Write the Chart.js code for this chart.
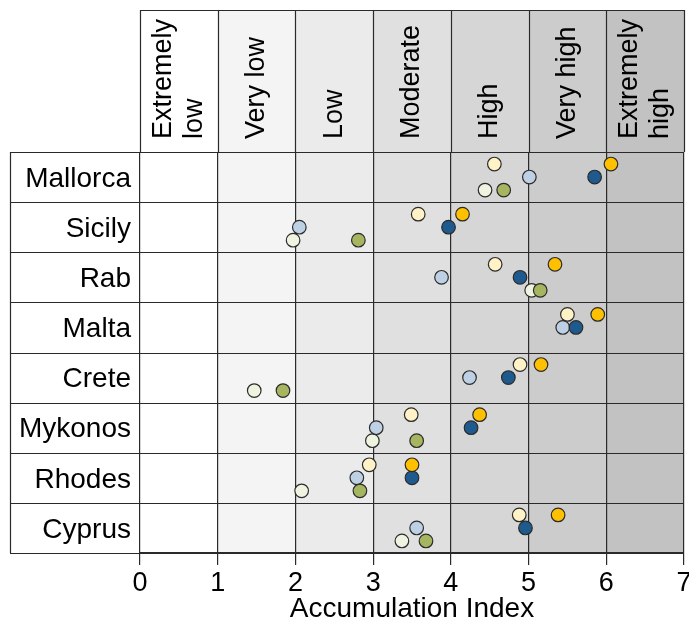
<!DOCTYPE html>
<html>
<head>
<meta charset="utf-8">
<script src="https://cdn.jsdelivr.net/npm/chart.js@4"></script>
<style>
    body { margin: 0; background: #fff; }
    #wrap { width: 689px; height: 622px; }
</style>
</head>
<body>
<div id="wrap"><canvas id="accChart"></canvas></div>
<script>
// Rows (top to bottom) and the index bands shown in the header
var islands = ['Mallorca', 'Sicily', 'Rab', 'Malta', 'Crete', 'Mykonos', 'Rhodes', 'Cyprus'];
var bandLabels = [['Extremely', 'low'], ['Very low'], ['Low'], ['Moderate'], ['High'], ['Very high'], ['Extremely', 'high']];
var xTicks = [0, 1, 2, 3, 4, 5, 6, 7];

// Accumulation index per island, one list per series (null = no value)
var creamVals     = [4.56, 3.58, 4.57, 5.50, 4.89, 3.49, 2.95, 4.88];
var goldVals      = [6.06, 4.15, 5.34, 5.89, 5.16, 4.37, 3.50, 5.38];
var lightBlueVals = [5.01, 2.05, 3.88, 5.44, 4.24, 3.04, 2.79, 3.56];
var darkBlueVals  = [5.85, 3.97, 4.89, 5.61, 4.74, 4.26, 3.50, 4.96];
var paleVals      = [4.44, 1.97, 5.04, null, 1.47, 2.99, 2.08, 3.37];
var oliveVals     = [4.68, 2.81, 5.15, null, 1.84, 3.56, 2.83, 3.68];

var bandColors = ['#ffffff', '#f4f4f4', '#eaebea', '#e0e0e0', '#d6d6d6', '#cccccc', '#c1c2c1'];
var lineColor = '#2a2a2a';
var FONT = "'Liberation Sans', Arial, sans-serif";
var HEADER_TOP = 10;
var LABEL_LEFT = 10;

function points(vals, shift) {
    var out = [];
    vals.forEach(function(v, i) {
        if (v !== null) out.push({ x: v, y: i + shift });
    });
    return out;
}

function series(label, vals, shift, color) {
    return {
        label: label,
        data: points(vals, shift),
        backgroundColor: color,
        borderColor: '#2b2b2b',
        borderWidth: 1.2,
        pointRadius: 6.8,
        pointHoverRadius: 6.8
    };
}

// dataset 0 is drawn last (on top)
var datasets = [
    series('Series E', goldVals, -0.26, '#ffc000'),
    series('Series D', darkBlueVals, 0, '#1f5a8f'),
    series('Series F', oliveVals, 0.26, '#a6b55f'),
    series('Series A', creamVals, -0.26, '#fff2c6'),
    series('Series B', lightBlueVals, 0, '#bdd0e4'),
    series('Series C', paleVals, 0.26, '#eef4df')
];

var bandsPlugin = {
    id: 'bands',
    beforeDraw: function(chart) {
        var ctx = chart.ctx, a = chart.chartArea, x = chart.scales.x;
        ctx.save();
        for (var i = 0; i < bandColors.length; i++) {
            var x0 = x.getPixelForValue(i), x1 = x.getPixelForValue(i + 1);
            ctx.fillStyle = bandColors[i];
            ctx.fillRect(x0, HEADER_TOP, x1 - x0, a.bottom - HEADER_TOP);
        }
        ctx.restore();
    },
    beforeDatasetsDraw: function(chart) {
        var ctx = chart.ctx, a = chart.chartArea, x = chart.scales.x, y = chart.scales.y;
        ctx.save();
        ctx.strokeStyle = lineColor;
        ctx.lineWidth = 1.2;
        ctx.beginPath();
        // row separators, across the label column too
        for (var r = 0; r <= islands.length; r++) {
            var py = Math.round(y.getPixelForValue(r - 0.5)) + 0.5;
            ctx.moveTo(LABEL_LEFT, py);
            ctx.lineTo(a.right, py);
        }
        ctx.moveTo(LABEL_LEFT + 0.5, a.top);
        ctx.lineTo(LABEL_LEFT + 0.5, a.bottom);
        // header frame
        ctx.moveTo(a.left, HEADER_TOP + 0.5);
        ctx.lineTo(a.right, HEADER_TOP + 0.5);
        xTicks.forEach(function(t) {
            var px = Math.round(x.getPixelForValue(t)) + 0.5;
            ctx.moveTo(px, HEADER_TOP);
            ctx.lineTo(px, a.top);
        });
        ctx.stroke();

        // header labels, rotated
        ctx.fillStyle = '#000';
        ctx.font = '27px ' + FONT;
        ctx.textAlign = 'left';
        ctx.textBaseline = 'middle';
        bandLabels.forEach(function(lines, i) {
            var cx = x.getPixelForValue(i + 0.5);
            ctx.save();
            ctx.translate(cx, a.top - 13);
            ctx.rotate(-Math.PI / 2);
            lines.forEach(function(txt, k) {
                ctx.fillText(txt, 0, (k - (lines.length - 1) / 2) * 31);
            });
            ctx.restore();
        });
        ctx.restore();
    }
};

new Chart(document.getElementById('accChart'), {
    type: 'scatter',
    data: { datasets: datasets },
    plugins: [bandsPlugin],
    options: {
        responsive: true,
        maintainAspectRatio: false,
        animation: false,
        layout: { autoPadding: false, padding: { left: LABEL_LEFT, top: 152, right: 5, bottom: 0 } },
        plugins: { legend: { display: false }, tooltip: { enabled: false } },
        scales: {
            x: {
                type: 'linear',
                min: 0,
                max: 7,
                afterBuildTicks: function(s) { s.ticks = xTicks.map(function(v) { return { value: v }; }); },
                afterFit: function(s) {
                    s.height = 69;
                    s.paddingLeft = 0;
                    s.paddingRight = 0;
                },
                ticks: { color: '#000', font: { family: FONT, size: 27 }, padding: 2, maxRotation: 0 },
                grid: { color: lineColor, lineWidth: 1.2, tickLength: 12, tickColor: lineColor },
                border: { color: lineColor, width: 1.2 },
                title: { display: true, text: 'Accumulation Index', color: '#000', font: { family: FONT, size: 28, lineHeight: 0.9 }, padding: 0 }
            },
            y: {
                type: 'linear',
                min: -0.5,
                max: 7.5,
                reverse: true,
                afterBuildTicks: function(s) { s.ticks = islands.map(function(n, i) { return { value: i }; }); },
                afterFit: function(s) { s.width = 130; },
                ticks: {
                    color: '#000',
                    font: { family: FONT, size: 28 },
                    padding: 9,
                    labelOffset: 2,
                    callback: function(v) { return islands[v] || ''; }
                },
                grid: { display: false, drawTicks: false },
                border: { display: false }
            }
        }
    }
});
</script>
</body>
</html>
